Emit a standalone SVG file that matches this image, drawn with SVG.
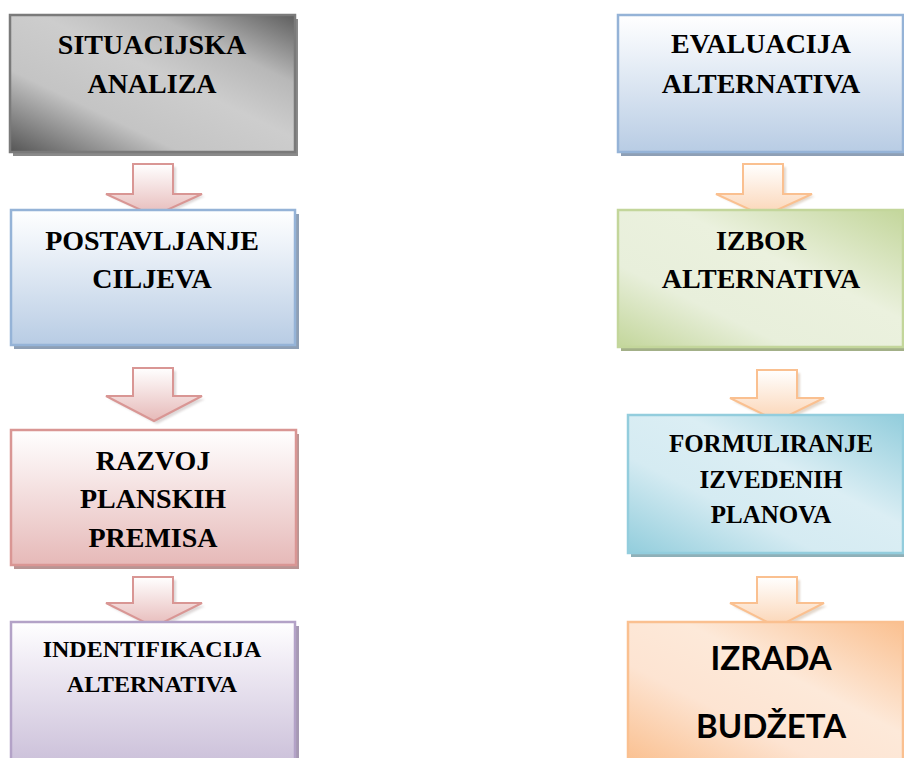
<svg xmlns="http://www.w3.org/2000/svg" width="904" height="758" viewBox="0 0 904 758">
<defs>
<linearGradient id="gMetal" x1="0" y1="1" x2="1" y2="0">
<stop offset="0" stop-color="#555"/><stop offset="0.3" stop-color="#c4c4c4"/><stop offset="0.55" stop-color="#cdcdcd"/><stop offset="0.75" stop-color="#b8b8b8"/><stop offset="1" stop-color="#5e5e5e"/>
</linearGradient>
<linearGradient id="gBlue" x1="0" y1="0" x2="0" y2="1">
<stop offset="0" stop-color="#fff"/><stop offset="0.25" stop-color="#eef3f9"/><stop offset="1" stop-color="#b8cce4"/>
</linearGradient>
<linearGradient id="gPink" x1="0" y1="0" x2="0" y2="1">
<stop offset="0" stop-color="#fff"/><stop offset="0.25" stop-color="#f9eeee"/><stop offset="1" stop-color="#e6b9b8"/>
</linearGradient>
<linearGradient id="gPurple" x1="0" y1="0" x2="0" y2="1">
<stop offset="0" stop-color="#fff"/><stop offset="0.25" stop-color="#f2eef6"/><stop offset="1" stop-color="#ccc1da"/>
</linearGradient>
<linearGradient id="gGreen" x1="0" y1="1" x2="1" y2="0">
<stop offset="0" stop-color="#c3d69b"/><stop offset="0.3" stop-color="#e8efdb"/><stop offset="0.6" stop-color="#ebf1de"/><stop offset="1" stop-color="#c3d69b"/>
</linearGradient>
<linearGradient id="gAqua" x1="0" y1="1" x2="1" y2="0">
<stop offset="0" stop-color="#92cddc"/><stop offset="0.35" stop-color="#d5ebf2"/><stop offset="0.6" stop-color="#dbeef4"/><stop offset="1" stop-color="#92cddc"/>
</linearGradient>
<linearGradient id="gOrange" x1="0" y1="1" x2="1" y2="0">
<stop offset="0" stop-color="#fac090"/><stop offset="0.35" stop-color="#fde4d2"/><stop offset="0.6" stop-color="#fde9d9"/><stop offset="1" stop-color="#fac090"/>
</linearGradient>
<linearGradient id="gArrPink" x1="0" y1="0" x2="0" y2="1">
<stop offset="0" stop-color="#fff"/><stop offset="1" stop-color="#e6b9b8"/>
</linearGradient>
<linearGradient id="gArrOrange" x1="0" y1="0" x2="0" y2="1">
<stop offset="0" stop-color="#fff"/><stop offset="1" stop-color="#fbd4b4"/>
</linearGradient>
<filter id="soft" x="-10%" y="-10%" width="120%" height="120%"><feGaussianBlur stdDeviation="0.8"/></filter>
</defs>
<style>
.t{font-family:"Liberation Serif","Times New Roman",serif;font-weight:bold;fill:#000;text-anchor:middle}
.t28{font-size:28px}
.t24{font-size:24px}
.t25{font-size:25px}
.c{font-family:Lato,"Open Sans","Liberation Sans",sans-serif;font-weight:bold;font-size:33px;fill:#000;text-anchor:middle}
.box{stroke-width:2.5}
</style>
<rect width="904" height="758" fill="#fff"/>

<g id="connectors">
<g id="arrow-l1">
<polygon points="136,167 176,167 176,196 205,196 157,219 109,196 136,196" fill="#a09090" opacity="0.35" filter="url(#soft)"/>
<polygon points="133,164 173,164 173,194 202,194 154,216 106,194 133,194" fill="url(#gArrPink)" stroke="#d99694" stroke-width="2"/>
</g>
<g id="arrow-l2">
<polygon points="136,371 176,371 176,399 205,399 157,424 109,399 136,399" fill="#a09090" opacity="0.35" filter="url(#soft)"/>
<polygon points="133,368 173,368 173,396 202,396 154,421 106,396 133,396" fill="url(#gArrPink)" stroke="#d99694" stroke-width="2"/>
</g>
<g id="arrow-l3">
<polygon points="136,580 176,580 176,606 205,606 157,630 109,606 136,606" fill="#a09090" opacity="0.35" filter="url(#soft)"/>
<polygon points="133,577 173,577 173,603 202,603 154,627 106,603 133,603" fill="url(#gArrPink)" stroke="#d99694" stroke-width="2"/>
</g>
<g id="arrow-r1">
<polygon points="746,167 786,167 786,196 815,196 767,219 719,196 746,196" fill="#b09070" opacity="0.35" filter="url(#soft)"/>
<polygon points="743,164 783,164 783,194 812,194 764,216 716,194 743,194" fill="url(#gArrOrange)" stroke="#fac090" stroke-width="2"/>
</g>
<g id="arrow-r2">
<polygon points="760,373 800,373 800,401 827,401 780,424 733,401 760,401" fill="#b09070" opacity="0.35" filter="url(#soft)"/>
<polygon points="757,370 797,370 797,398 824,398 777,421 730,398 757,398" fill="url(#gArrOrange)" stroke="#fac090" stroke-width="2"/>
</g>
<g id="arrow-r3">
<polygon points="760,580 800,580 800,606 827,606 780,630 733,606 760,606" fill="#b09070" opacity="0.35" filter="url(#soft)"/>
<polygon points="757,577 797,577 797,603 824,603 777,627 730,603 757,603" fill="url(#gArrOrange)" stroke="#fac090" stroke-width="2"/>
</g>
</g>

<g id="node-situacijska">
<rect x="13" y="19" width="285" height="137" fill="#8a8a8a"/>
<rect x="10" y="15" width="285" height="137" fill="url(#gMetal)" stroke="#7a7a7a" class="box"/>
<text class="t t28" x="152" y="54">SITUACIJSKA</text>
<text class="t t28" x="152" y="93">ANALIZA</text>
</g>

<g id="node-postavljanje">
<rect x="14" y="214" width="285" height="135" fill="#8e9fb5"/>
<rect x="11" y="210" width="284" height="135" fill="url(#gBlue)" stroke="#95b3d7" class="box"/>
<text class="t t28" x="152" y="250">POSTAVLJANJE</text>
<text class="t t28" x="152" y="288">CILJEVA</text>
</g>

<g id="node-razvoj">
<rect x="14" y="434" width="285" height="135" fill="#b89594"/>
<rect x="11" y="430" width="285" height="135" fill="url(#gPink)" stroke="#d99694" class="box"/>
<text class="t t28" x="153" y="470">RAZVOJ</text>
<text class="t t28" x="153" y="508">PLANSKIH</text>
<text class="t t28" x="153" y="547">PREMISA</text>
</g>

<g id="node-indentifikacija">
<rect x="14" y="626" width="285" height="140" fill="#a699b3"/>
<rect x="11" y="622" width="284" height="140" fill="url(#gPurple)" stroke="#b3a2c7" class="box"/>
<text class="t t24" x="152" y="657">INDENTIFIKACIJA</text>
<text class="t t24" x="152" y="692">ALTERNATIVA</text>
</g>

<g id="node-evaluacija">
<rect x="621" y="19" width="285" height="137" fill="#8e9fb5"/>
<rect x="618" y="15" width="285" height="137" fill="url(#gBlue)" stroke="#95b3d7" class="box"/>
<text class="t t28" x="761" y="53">EVALUACIJA</text>
<text class="t t28" x="761" y="93">ALTERNATIVA</text>
</g>

<g id="node-izbor">
<rect x="621" y="214" width="285" height="137" fill="#a3b088"/>
<rect x="618" y="210" width="285" height="137" fill="url(#gGreen)" stroke="#c3d69b" class="box"/>
<text class="t t28" x="761" y="250">IZBOR</text>
<text class="t t28" x="761" y="288">ALTERNATIVA</text>
</g>

<g id="node-formuliranje">
<rect x="631" y="419" width="275" height="138" fill="#8fb0b8"/>
<rect x="628" y="415" width="275" height="138" fill="url(#gAqua)" stroke="#93cddd" class="box"/>
<text class="t t25" x="771" y="452">FORMULIRANJE</text>
<text class="t t25" x="771" y="488">IZVEDENIH</text>
<text class="t t25" x="771" y="523">PLANOVA</text>
</g>

<g id="node-izrada">
<rect x="631" y="626" width="275" height="140" fill="#d0a888"/>
<rect x="628" y="622" width="275" height="140" fill="url(#gOrange)" stroke="#fac090" class="box"/>
<text class="c" x="771" y="670">IZRADA</text>
<text class="c" x="771" y="738">BUDŽETA</text>
</g>
</svg>
